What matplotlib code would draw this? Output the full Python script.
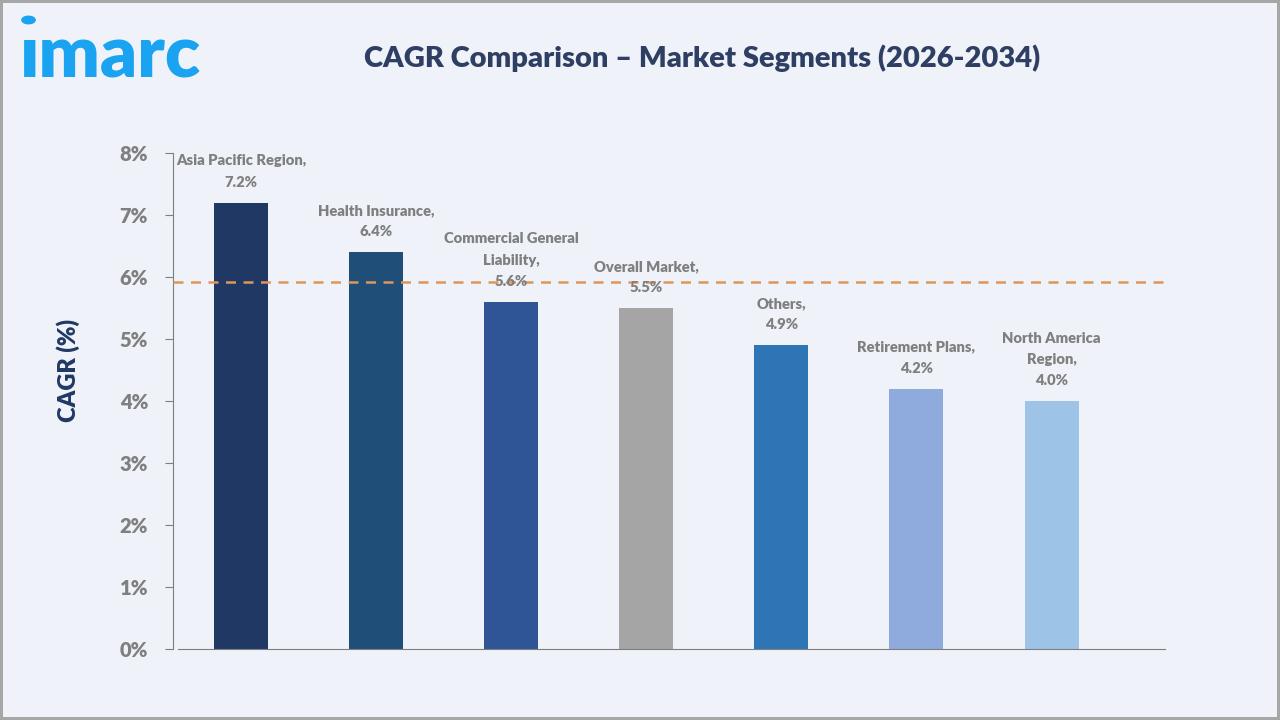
import numpy as np
import matplotlib.pyplot as plt
from matplotlib.ticker import FuncFormatter

# data
segments = ["Asia Pacific Region", "Health Insurance", "Commercial General\nLiability",
            "Overall Market", "Others", "Retirement Plans", "North America\nRegion"]
cagr = [7.2, 6.4, 5.6, 5.5, 4.9, 4.2, 4.0]
reference_line = 5.92
colors = ["#1F3864", "#1F4E79", "#2F5597", "#A5A5A5", "#2E75B6", "#8FAADC", "#9DC3E6"]

plt.rcParams['font.family'] = ['Lato', 'DejaVu Sans']

bg = "#EFF3F9"
fig = plt.figure(figsize=(12.8, 7.2), dpi=100, facecolor=bg)
fig.patch.set_edgecolor("#A6A6A6")
fig.patch.set_linewidth(3)

# axes: left edge at y spine (x=173px), 0% at y=649, 8% at y=153
ax = fig.add_axes([173/1280, (720-649)/720, (1165-173)/1280, (649-153)/720])
ax.set_facecolor(bg)

x = np.arange(len(cagr))
ax.bar(x, cagr, width=0.4, color=colors, zorder=2)
ax.axhline(reference_line, color="#E0965A", lw=1.8, ls=(0, (4, 3)), zorder=3)

for xi, v, name in zip(x, cagr, segments):
    ax.annotate(f"{name},\n{v:.1f}%", (xi, v), xytext=(0, 10), textcoords="offset points",
                ha="center", va="bottom", fontsize=10.6, fontweight="heavy",
                color="#7F7F7F", linespacing=1.75, zorder=4)

ax.set_xlim(-0.504, 6.84)
ax.set_ylim(0, 8)
ax.set_yticks(range(0, 9))
ax.yaxis.set_major_formatter(FuncFormatter(lambda v, p: f"{v:.0f}%"))
ax.set_xticks([])
for s in ["top", "right"]:
    ax.spines[s].set_visible(False)
ax.spines["left"].set_color("#7F7F7F")
ax.spines["bottom"].set_color("#7F7F7F")
ax.spines["bottom"].set_bounds(-0.47, 6.84)
ax.tick_params(axis="y", length=6, color="#7F7F7F", labelcolor="#7F7F7F",
               labelsize=14.5, pad=12)
for lab in ax.get_yticklabels():
    lab.set_fontweight("heavy")

ax.set_ylabel("CAGR (%)", fontsize=17, fontweight="heavy", color="#203864")
ax.yaxis.set_label_coords((80 - 173) / 992, (649 - 370) / 496)

fig.text(702/1280, 1 - 58/720, "CAGR Comparison \u2013 Market Segments (2026-2034)",
         ha="center", va="center", fontsize=21, fontweight="heavy", color="#2E3F63")

# logo
fig.text(20/1280, 1 - 57/720, "\u0131marc", ha="left", va="center",
         fontsize=52, fontweight="heavy", color="#1AA3F0")
fig.patches.append(plt.Circle((28.5/1280, 1 - 20/720), 0.0052, transform=fig.transFigure,
                              color="#1AA3F0"))

fig.savefig("out.png", dpi=100, facecolor=bg, edgecolor="#A6A6A6")
